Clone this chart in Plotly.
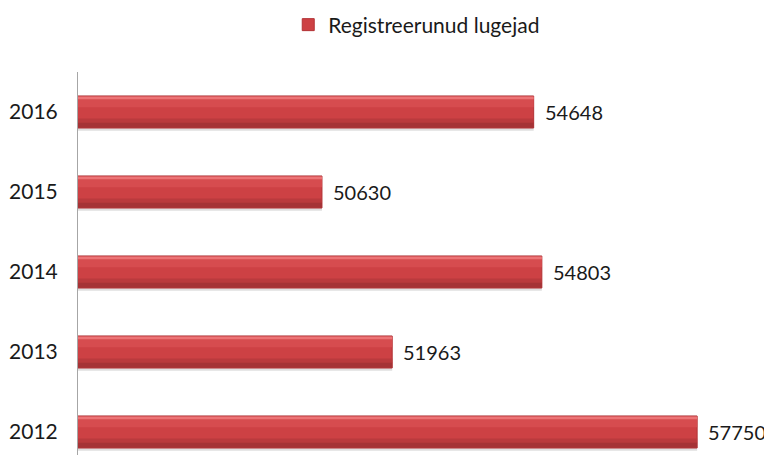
import plotly.graph_objects as go

years = ["2012", "2013", "2014", "2015", "2016"]
values = [57750, 51963, 54803, 50630, 54648]
series_name = "Registreerunud lugejad"

FONT = "Lato, 'Open Sans', sans-serif"

fig = go.Figure()
# shadow
fig.add_trace(go.Bar(y=years, x=values, orientation="h", width=0.44, offset=-0.235,
                     marker=dict(color="rgba(110,110,110,0.22)", line=dict(width=0)),
                     showlegend=False, hoverinfo="skip"))
# main bar
fig.add_trace(go.Bar(y=years, x=values, orientation="h", width=0.4, offset=-0.2,
                     name=series_name,
                     marker=dict(color="#CD4144", line=dict(color="#B33336", width=1))))
# bottom dark band
fig.add_trace(go.Bar(y=years, x=values, orientation="h", width=0.07, offset=-0.198,
                     marker=dict(color="#A53336", line=dict(width=0)),
                     showlegend=False, hoverinfo="skip"))
fig.add_trace(go.Bar(y=years, x=values, orientation="h", width=0.05, offset=-0.13,
                     marker=dict(color="#BA3A3D", line=dict(width=0)),
                     showlegend=False, hoverinfo="skip"))
# top highlight
fig.add_trace(go.Bar(y=years, x=values, orientation="h", width=0.12, offset=0.06,
                     marker=dict(color="#D64C4F", line=dict(width=0)),
                     showlegend=False, hoverinfo="skip"))
fig.add_trace(go.Bar(y=years, x=values, orientation="h", width=0.035, offset=0.16,
                     marker=dict(color="#EC7476", line=dict(width=0)),
                     showlegend=False, hoverinfo="skip"))

for i, v in enumerate(values):
    fig.add_annotation(x=v, y=i, text=str(v), showarrow=False, xanchor="left",
                       xshift=9, font=dict(family=FONT, size=20, color="#1a1a1a"))

fig.update_layout(
    width=764, height=447,
    margin=dict(l=70, r=9, t=64, b=0, autoexpand=False),
    barmode="overlay",
    plot_bgcolor="white", paper_bgcolor="white",
    font=dict(family=FONT, size=20, color="#1a1a1a"),
    showlegend=True,
    legend=dict(orientation="h", xref="container", x=0.535, xanchor="center",
                yref="container", y=0.962, yanchor="middle",
                font=dict(family=FONT, size=21, color="#1a1a1a"),
                itemwidth=30),
    xaxis=dict(range=[46000, 59000], showgrid=False, zeroline=False, showticklabels=False,
               ticks="", showline=False),
    yaxis=dict(type="category", categoryorder="array", categoryarray=years,
               range=[-0.2875, 4.5], showgrid=False, zeroline=False,
               showline=True, linecolor="#A6A6A6", linewidth=1,
               ticks="", ticklabelstandoff=15,
               tickfont=dict(family=FONT, size=21, color="#1a1a1a")),
)

fig.write_html("out.html")
